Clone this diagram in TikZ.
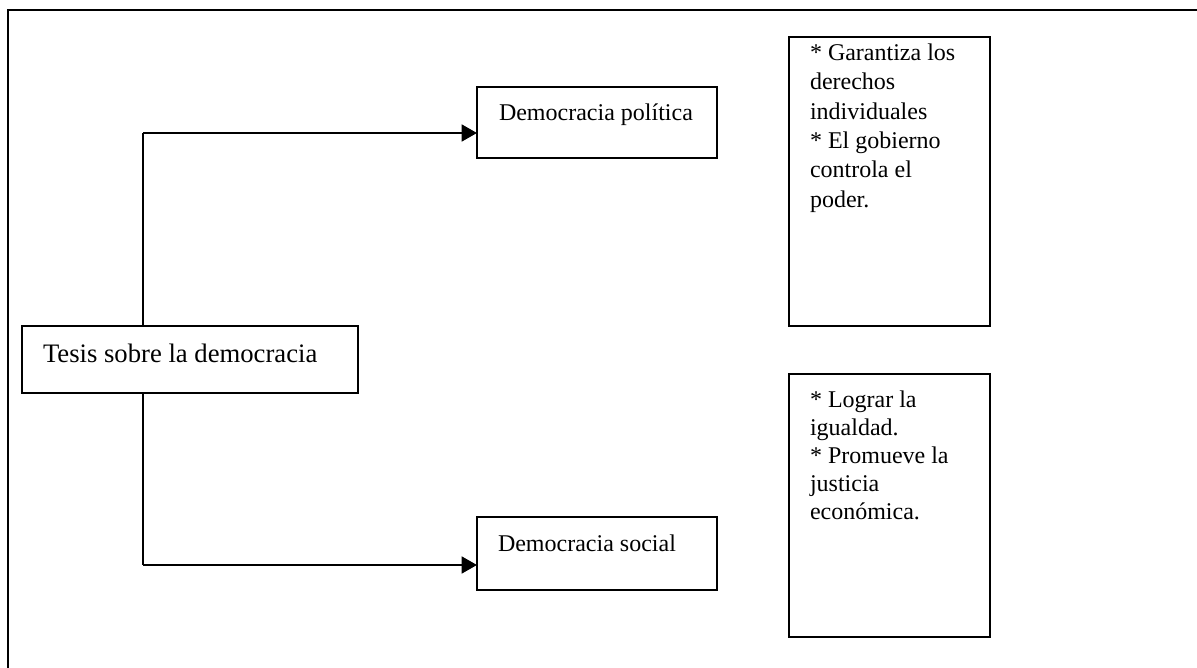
\documentclass[tikz,border=0pt]{standalone}
\usepackage{fontspec}
\setmainfont{Liberation Serif}
\usetikzlibrary{arrows.meta}
\begin{document}
\begin{tikzpicture}[x=0.75pt,y=-0.75pt,
  frame/.style={line width=1.6pt,line cap=rect},
  box/.style={draw,line width=1.1pt,inner sep=0pt,outer sep=0pt},
  txt/.style={inner sep=0pt,outer sep=0pt,font=\fontsize{18}{21.4}\selectfont},
  bigtxt/.style={inner sep=0pt,outer sep=0pt,font=\fontsize{20}{24}\selectfont},
  notes/.style={inner sep=0pt,outer sep=0pt,align=left,anchor=north west},
  stem/.style={line width=1pt},
  branch/.style={line width=2pt,-{Triangle[length=11.5pt,width=12.5pt]}}]
\useasboundingbox (0,0) rectangle (1197,668);

% outer frame (open towards the right and bottom)
\draw[frame] (8,668) -- (8,10) -- (1197,10);

% boxes
\node[box,minimum width=252pt,minimum height=50.25pt] (tesis) at (190,359.5) {};
\node[box,minimum width=180pt,minimum height=53.25pt] (pol) at (597,122.5) {};
\node[box,minimum width=180pt,minimum height=54.75pt] (soc) at (597,553.5) {};
\node[box,minimum width=150.75pt,minimum height=216.75pt] (rA) at (889.5,181.5) {};
\node[box,minimum width=150.75pt,minimum height=197.25pt] (rB) at (889.5,505.5) {};

% box texts
\node[bigtxt,anchor=base west] (tesisT) at (43,362) {Tesis sobre la democracia};
\node[txt,anchor=base west] (polT) at (499,120) {Democracia política};
\node[txt,anchor=base west] (socT) at (498,551) {Democracia social};
\node[notes,font=\fontsize{18}{22}\selectfont] (rAT) at (810,44)
  {* Garantiza los\\derechos\\individuales\\* El gobierno\\controla el\\poder.};
\node[notes,font=\fontsize{18}{21}\selectfont] (rBT) at (810,390.5)
  {* Lograr la\\igualdad.\\* Promueve la\\justicia\\económica.};

% connectors
\coordinate (j1) at (143,133);
\coordinate (j2) at (143,565);
\draw[stem] (tesis.north -| j1) -- (j1);
\draw[stem] (tesis.south -| j2) -- (j2);
\draw[branch] (j1) -- (pol.west |- j1);
\draw[branch] (j2) -- (soc.west |- j2);
\end{tikzpicture}
\end{document}
